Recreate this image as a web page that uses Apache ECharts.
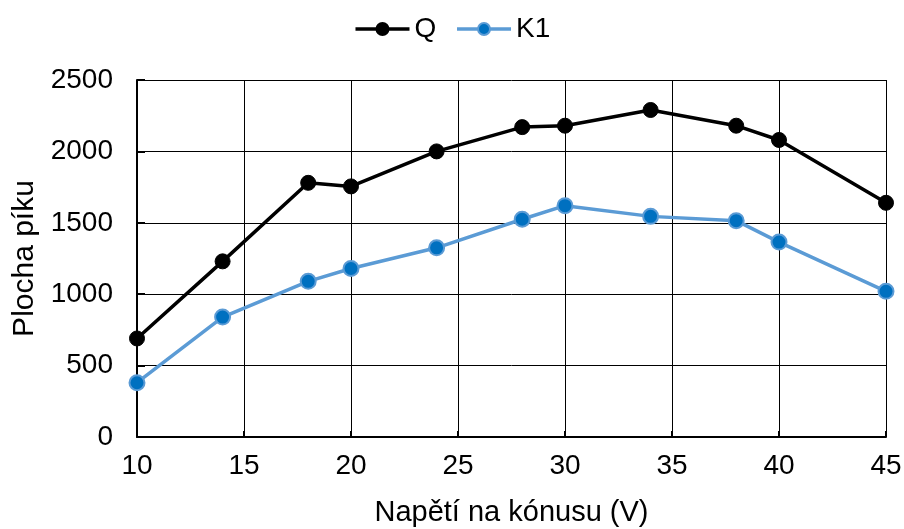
<!DOCTYPE html>
<html>
<head>
<meta charset="utf-8">
<script src="https://cdn.jsdelivr.net/npm/echarts@6/dist/echarts.min.js"></script>
<style>
html, body { margin: 0; padding: 0; background: #fff; }
#chart { width: 904px; height: 529px; }
</style>
</head>
<body>
<div id="chart"></div>
<script>
// Cone voltage (V)
const napeti = [10, 14, 18, 20, 24, 28, 30, 34, 38, 40, 45];
// Peak areas
const plochaQ = [690, 1230, 1780, 1755, 2000, 2170, 2180, 2290, 2180, 2080, 1640];
const plochaK1 = [380, 840, 1090, 1180, 1325, 1525, 1620, 1545, 1515, 1365, 1020];

const font = 'Liberation Sans, Arial, sans-serif';

const pairs = (xs, ys) => xs.map((x, i) => [x, ys[i]]);

const chart = echarts.init(document.getElementById('chart'));
chart.setOption({
  animation: false,
  backgroundColor: '#fff',
  textStyle: { fontFamily: font },
  legend: {
    top: 10,
    left: 'center',
    itemWidth: 54,
    itemHeight: 15,
    itemGap: 19,
    lineStyle: { width: 3.5 },
    textStyle: { fontSize: 28, color: '#000', fontFamily: font },
    data: ['Q', 'K1']
  },
  grid: { left: 137, right: 18, top: 80, bottom: 92, containLabel: false, outerBoundsMode: 'none' },
  xAxis: {
    type: 'value',
    min: 10, max: 45, interval: 5,
    name: 'Napětí na kónusu (V)',
    nameLocation: 'middle',
    nameGap: 76,
    nameTextStyle: { fontSize: 29, color: '#000', fontFamily: font, verticalAlign: 'middle' },
    axisLine: { lineStyle: { color: '#000', width: 2 } },
    axisTick: { inside: true, length: 6, lineStyle: { color: '#000', width: 2 } },
    axisLabel: { fontSize: 28, color: '#000', margin: 15, fontFamily: font },
    splitLine: { show: true, lineStyle: { color: '#000', width: 1 } }
  },
  yAxis: {
    type: 'value',
    min: 0, max: 2500, interval: 500,
    name: 'Plocha píku',
    nameLocation: 'middle',
    nameGap: 110,
    nameRotate: 90,
    nameTextStyle: { fontSize: 30, color: '#000', fontFamily: font, verticalAlign: 'middle' },
    axisLine: { show: true, lineStyle: { color: '#000', width: 2 } },
    axisTick: { show: true, inside: true, length: 8, lineStyle: { color: '#000', width: 2 } },
    axisLabel: { fontSize: 28, color: '#000', margin: 24, fontFamily: font, formatter: v => String(v) },
    splitLine: { show: true, lineStyle: { color: '#000', width: 1 } }
  },
  series: [
    {
      name: 'Q',
      type: 'line',
      data: pairs(napeti, plochaQ),
      symbol: 'circle',
      symbolSize: 15,
      lineStyle: { color: '#000', width: 3.5 },
      itemStyle: { color: '#000', borderColor: '#000', borderWidth: 1 },
      z: 3
    },
    {
      name: 'K1',
      type: 'line',
      data: pairs(napeti, plochaK1),
      symbol: 'circle',
      symbolSize: 15,
      lineStyle: { color: '#5B9BD5', width: 3.5 },
      itemStyle: { color: '#0070C0', borderColor: '#5B9BD5', borderWidth: 2 },
      z: 4
    }
  ]
});
</script>
</body>
</html>
